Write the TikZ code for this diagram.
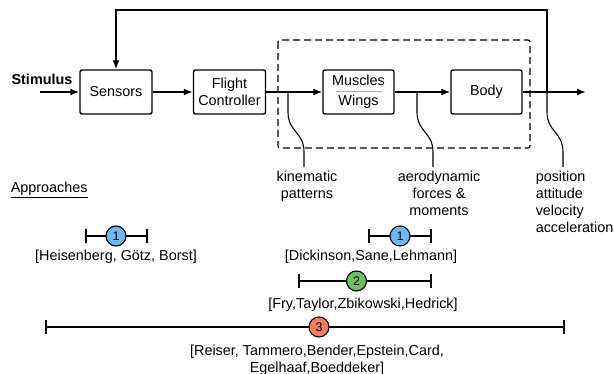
\documentclass[tikz,border=0pt]{standalone}
\usepackage{fontspec}
\setmainfont{Liberation Sans}
\usetikzlibrary{arrows.meta, positioning}
\definecolor{oneblue}{HTML}{6FB7F7}
\definecolor{twogreen}{HTML}{6CC060}
\definecolor{threered}{HTML}{F87C63}
\definecolor{sepgray}{HTML}{A3ACC2}
\tikzstyle{block} = [draw, line width=1.4pt, rounded corners=2pt, minimum width=72pt, minimum height=44pt, align=center, inner sep=1pt]
\tikzstyle{num} = [draw, circle, line width=1.1pt, minimum size=20pt, inner sep=0pt, font=\fontsize{12.5pt}{14pt}\selectfont]
\tikzstyle{span} = [line width=1.6pt, {Bar[width=14pt]}-{Bar[width=14pt]}]
\tikzstyle{lead} = [line width=1.1pt]
\tikzstyle{note} = [inner sep=0pt, align=center]

\begin{document}
\begin{tikzpicture}[x=1pt, y=-1pt, >={Latex[length=9pt,width=7pt]}, line width=1.5pt, font=\fontsize{14.4pt}{17pt}\selectfont]
    \useasboundingbox (0,0) rectangle (614,374);
    % control loop
    \node[block] (sens) at (116,92) {Sensors};
    \node[block, right of=sens, node distance=113.5pt] (fc) {Flight\\Controller};
    \node[block, right of=fc, node distance=129pt, minimum width=71pt] (mw) {Muscles\\[3pt]Wings};
    \node[block, right of=mw, node distance=128pt, minimum width=71pt] (body) {Body};
    \node[note, anchor=base, font=\bfseries\fontsize{14.4pt}{17pt}\selectfont] (stim) at (42,85) {Stimulus};
    \coordinate (in) at (40,92);
    \coordinate (out) at (586,92);
    \coordinate (fb) at (547,92);
    \coordinate (kinTop) at (288,92);
    \coordinate (aeroTop) at (417,92);
    \draw[->] (in) -- (sens);
    \draw[->] (sens) -- (fc);
    \draw[->] (fc) -- (mw);
    \draw[->] (mw) -- (body);
    \draw[->] (body) -- (out);
    \draw[->] (fb) -- ++(0,-82) -| (sens.north);
    \draw[sepgray, line width=1.3pt] ([xshift=-23pt,yshift=0.5pt]mw.center) -- ([xshift=23pt,yshift=0.5pt]mw.center);
    \draw[dash pattern=on 7pt off 4pt, line width=1.2pt, rounded corners=2pt] (278,40) rectangle (530,148);

    % signal labels
    \node[note, anchor=north] (kin) at (307,170) {kinematic\\patterns};
    \node[note, anchor=north] (aero) at (439,170) {aerodynamic\\forces \&\\moments};
    \node[note, anchor=north west, align=left] (pos) at (535,170) {position\\attitude\\velocity\\acceleration};
    \draw[lead] (kinTop) -- ++(0,20) .. controls +(0,20) and +(0,-20) .. ([xshift=-3pt,yshift=18pt]kin.north) -- ([xshift=-3pt,yshift=3pt]kin.north);
    \draw[lead] (aeroTop) -- ++(0,20) .. controls +(0,20) and +(0,-20) .. ([xshift=-6pt,yshift=18pt]aero.north) -- ([xshift=-6pt,yshift=3pt]aero.north);
    \draw[lead] (fb) -- ++(0,20) .. controls +(0,20) and +(0,-20) .. ([xshift=28pt,yshift=18pt]pos.north west) -- ([xshift=28pt,yshift=3pt]pos.north west);

    % approaches
    \node[note, anchor=base west] (appr) at (10,193) {\underline{Approaches}};
    \coordinate (heisL) at (85,236);
    \coordinate (heisR) at (148,236);
    \draw[span] (heisL) -- (heisR);
    \node[num, fill=oneblue] (heisN) at (116,236) {1};
    \node[note, anchor=base] (heis) at (116,261) {[Heisenberg, Götz, Borst]};
    \coordinate (dickL) at (368,236);
    \coordinate (dickR) at (432,236);
    \draw[span] (dickL) -- (dickR);
    \node[num, fill=oneblue] (dickN) at (400,236) {1};
    \node[note, anchor=base] (dick) at (371,261) {[Dickinson,Sane,Lehmann]};
    \coordinate (fryL) at (298,281);
    \coordinate (fryR) at (432,281);
    \draw[span] (fryL) -- (fryR);
    \node[num, fill=twogreen] (fryN) at (356.5,281) {2};
    \node[note, anchor=base] (fry) at (363,309) {[Fry,Taylor,Zbikowski,Hedrick]};
    \coordinate (reisL) at (45,327);
    \coordinate (reisR) at (565,327);
    \draw[span] (reisL) -- (reisR);
    \node[num, fill=threered] (reisN) at (319,327) {3};
    \node[note, anchor=north] (reis) at (317,344) {[Reiser, Tammero,Bender,Epstein,Card,\\Egelhaaf,Boeddeker]};
\end{tikzpicture}
\end{document}
